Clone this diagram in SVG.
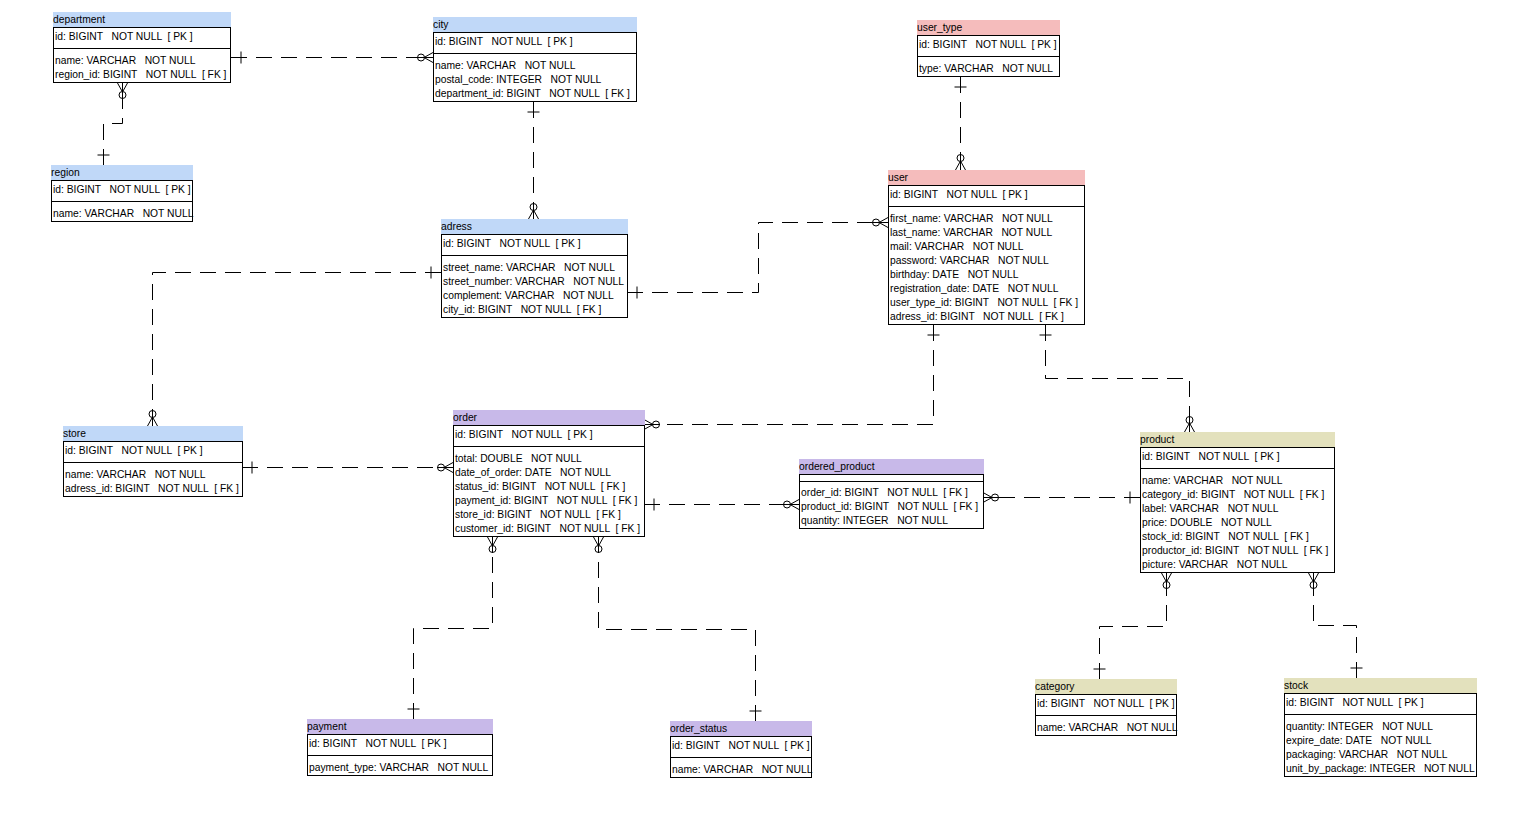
<svg xmlns="http://www.w3.org/2000/svg" width="1530" height="828" viewBox="0 0 1530 828">
<style>
text{font-family:"Liberation Sans",Arial,sans-serif;font-size:10.3px;fill:#000;white-space:pre}
.box{fill:#fff;stroke:#000;stroke-width:1}
.sep{stroke:#000;stroke-width:1}
.hb{fill:#c0d8f8}
.hp{fill:#f5bcbc}
.hv{fill:#c8b9e9}
.hk{fill:#e3e1bd}
.conn{fill:none;stroke:#000;stroke-width:1;stroke-dasharray:16 9;marker-start:url(#one);marker-end:url(#many)}
.mk{fill:none;stroke:#000;stroke-width:1}
</style>
<defs>
<marker id="one" markerUnits="userSpaceOnUse" viewBox="-20 -10 22 20" refX="0" refY="0" markerWidth="22" markerHeight="20" orient="auto-start-reverse" overflow="visible">
<path class="mk" d="M-16 0H0M-10 -6V6"/>
</marker>
<marker id="many" markerUnits="userSpaceOnUse" viewBox="-20 -10 22 20" refX="0" refY="0" markerWidth="22" markerHeight="20" orient="auto" overflow="visible">
<path class="mk" d="M-16 0H0M-9 0L0 -5M-9 0L0 5"/>
<circle class="mk" cx="-12" cy="0" r="3.5"/>
</marker>
</defs>
<rect width="1530" height="828" fill="#fff"/>

<g id="connectors">
<path class="conn" d="M231 57.5H433"/>
<path class="conn" d="M103.5 165V123.5H122.5V83"/>
<path class="conn" d="M533.5 102V219"/>
<path class="conn" d="M627 292.5H758.5V222.5H888"/>
<path class="conn" d="M441 272.5H152.5V426"/>
<path class="conn" d="M960.5 77V170"/>
<path class="conn" d="M933.5 325V424.5H644"/>
<path class="conn" d="M1045.5 325V378.5H1189.5V432"/>
<path class="conn" d="M242 467.5H453"/>
<path class="conn" d="M644 504.5H799"/>
<path class="conn" d="M1140 497.5H983"/>
<path class="conn" d="M413.5 719V628.5H492.5V537"/>
<path class="conn" d="M755.5 721V629.5H598.5V537"/>
<path class="conn" d="M1099.5 679V626.5H1166.5V573"/>
<path class="conn" d="M1356.5 678V625.5H1313.5V573"/>
</g>

<g id="department">
<rect class="hb" x="53" y="12" width="178" height="15"/>
<text x="53" y="23">department</text>
<rect class="box" x="53.5" y="27.5" width="177" height="55"/>
<line class="sep" x1="53" y1="48.5" x2="231" y2="48.5"/>
<text x="55" y="40">id: BIGINT   NOT NULL  [ PK ]</text>
<text x="55" y="64">name: VARCHAR   NOT NULL</text>
<text x="55" y="78">region_id: BIGINT   NOT NULL  [ FK ]</text>
</g>

<g id="city">
<rect class="hb" x="433" y="17" width="204" height="15"/>
<text x="433" y="28">city</text>
<rect class="box" x="433.5" y="32.5" width="203" height="69"/>
<line class="sep" x1="433" y1="53.5" x2="637" y2="53.5"/>
<text x="435" y="45">id: BIGINT   NOT NULL  [ PK ]</text>
<text x="435" y="69">name: VARCHAR   NOT NULL</text>
<text x="435" y="83">postal_code: INTEGER   NOT NULL</text>
<text x="435" y="97">department_id: BIGINT   NOT NULL  [ FK ]</text>
</g>

<g id="region">
<rect class="hb" x="51" y="165" width="142" height="15"/>
<text x="51" y="176">region</text>
<rect class="box" x="51.5" y="180.5" width="141" height="41"/>
<line class="sep" x1="51" y1="201.5" x2="193" y2="201.5"/>
<text x="53" y="193">id: BIGINT   NOT NULL  [ PK ]</text>
<text x="53" y="217">name: VARCHAR   NOT NULL</text>
</g>

<g id="user_type">
<rect class="hp" x="917" y="20" width="143" height="15"/>
<text x="917" y="31">user_type</text>
<rect class="box" x="917.5" y="35.5" width="142" height="41"/>
<line class="sep" x1="917" y1="56.5" x2="1060" y2="56.5"/>
<text x="919" y="48">id: BIGINT   NOT NULL  [ PK ]</text>
<text x="919" y="72">type: VARCHAR   NOT NULL</text>
</g>

<g id="user">
<rect class="hp" x="888" y="170" width="197" height="15"/>
<text x="888" y="181">user</text>
<rect class="box" x="888.5" y="185.5" width="196" height="139"/>
<line class="sep" x1="888" y1="206.5" x2="1085" y2="206.5"/>
<text x="890" y="198">id: BIGINT   NOT NULL  [ PK ]</text>
<text x="890" y="222">first_name: VARCHAR   NOT NULL</text>
<text x="890" y="236">last_name: VARCHAR   NOT NULL</text>
<text x="890" y="250">mail: VARCHAR   NOT NULL</text>
<text x="890" y="264">password: VARCHAR   NOT NULL</text>
<text x="890" y="278">birthday: DATE   NOT NULL</text>
<text x="890" y="292">registration_date: DATE   NOT NULL</text>
<text x="890" y="306">user_type_id: BIGINT   NOT NULL  [ FK ]</text>
<text x="890" y="320">adress_id: BIGINT   NOT NULL  [ FK ]</text>
</g>

<g id="adress">
<rect class="hb" x="441" y="219" width="187" height="15"/>
<text x="441" y="230">adress</text>
<rect class="box" x="441.5" y="234.5" width="186" height="83"/>
<line class="sep" x1="441" y1="255.5" x2="628" y2="255.5"/>
<text x="443" y="247">id: BIGINT   NOT NULL  [ PK ]</text>
<text x="443" y="271">street_name: VARCHAR   NOT NULL</text>
<text x="443" y="285">street_number: VARCHAR   NOT NULL</text>
<text x="443" y="299">complement: VARCHAR   NOT NULL</text>
<text x="443" y="313">city_id: BIGINT   NOT NULL  [ FK ]</text>
</g>

<g id="store">
<rect class="hb" x="63" y="426" width="180" height="15"/>
<text x="63" y="437">store</text>
<rect class="box" x="63.5" y="441.5" width="179" height="55"/>
<line class="sep" x1="63" y1="462.5" x2="243" y2="462.5"/>
<text x="65" y="454">id: BIGINT   NOT NULL  [ PK ]</text>
<text x="65" y="478">name: VARCHAR   NOT NULL</text>
<text x="65" y="492">adress_id: BIGINT   NOT NULL  [ FK ]</text>
</g>

<g id="order">
<rect class="hv" x="453" y="410" width="192" height="15"/>
<text x="453" y="421">order</text>
<rect class="box" x="453.5" y="425.5" width="191" height="111"/>
<line class="sep" x1="453" y1="446.5" x2="645" y2="446.5"/>
<text x="455" y="438">id: BIGINT   NOT NULL  [ PK ]</text>
<text x="455" y="462">total: DOUBLE   NOT NULL</text>
<text x="455" y="476">date_of_order: DATE   NOT NULL</text>
<text x="455" y="490">status_id: BIGINT   NOT NULL  [ FK ]</text>
<text x="455" y="504">payment_id: BIGINT   NOT NULL  [ FK ]</text>
<text x="455" y="518">store_id: BIGINT   NOT NULL  [ FK ]</text>
<text x="455" y="532">customer_id: BIGINT   NOT NULL  [ FK ]</text>
</g>

<g id="ordered_product">
<rect class="hv" x="799" y="459" width="185" height="15"/>
<text x="799" y="470">ordered_product</text>
<rect class="box" x="799.5" y="474.5" width="184" height="54"/>
<line class="sep" x1="799" y1="481.5" x2="984" y2="481.5"/>
<text x="801" y="496">order_id: BIGINT   NOT NULL  [ FK ]</text>
<text x="801" y="510">product_id: BIGINT   NOT NULL  [ FK ]</text>
<text x="801" y="524">quantity: INTEGER   NOT NULL</text>
</g>

<g id="product">
<rect class="hk" x="1140" y="432" width="195" height="15"/>
<text x="1140" y="443">product</text>
<rect class="box" x="1140.5" y="447.5" width="194" height="125"/>
<line class="sep" x1="1140" y1="468.5" x2="1335" y2="468.5"/>
<text x="1142" y="460">id: BIGINT   NOT NULL  [ PK ]</text>
<text x="1142" y="484">name: VARCHAR   NOT NULL</text>
<text x="1142" y="498">category_id: BIGINT   NOT NULL  [ FK ]</text>
<text x="1142" y="512">label: VARCHAR   NOT NULL</text>
<text x="1142" y="526">price: DOUBLE   NOT NULL</text>
<text x="1142" y="540">stock_id: BIGINT   NOT NULL  [ FK ]</text>
<text x="1142" y="554">productor_id: BIGINT   NOT NULL  [ FK ]</text>
<text x="1142" y="568">picture: VARCHAR   NOT NULL</text>
</g>

<g id="category">
<rect class="hk" x="1035" y="679" width="142" height="15"/>
<text x="1035" y="690">category</text>
<rect class="box" x="1035.5" y="694.5" width="141" height="41"/>
<line class="sep" x1="1035" y1="715.5" x2="1177" y2="715.5"/>
<text x="1037" y="707">id: BIGINT   NOT NULL  [ PK ]</text>
<text x="1037" y="731">name: VARCHAR   NOT NULL</text>
</g>

<g id="stock">
<rect class="hk" x="1284" y="678" width="193" height="15"/>
<text x="1284" y="689">stock</text>
<rect class="box" x="1284.5" y="693.5" width="192" height="83"/>
<line class="sep" x1="1284" y1="714.5" x2="1477" y2="714.5"/>
<text x="1286" y="706">id: BIGINT   NOT NULL  [ PK ]</text>
<text x="1286" y="730">quantity: INTEGER   NOT NULL</text>
<text x="1286" y="744">expire_date: DATE   NOT NULL</text>
<text x="1286" y="758">packaging: VARCHAR   NOT NULL</text>
<text x="1286" y="772">unit_by_package: INTEGER   NOT NULL</text>
</g>

<g id="payment">
<rect class="hv" x="307" y="719" width="186" height="15"/>
<text x="307" y="730">payment</text>
<rect class="box" x="307.5" y="734.5" width="185" height="41"/>
<line class="sep" x1="307" y1="755.5" x2="493" y2="755.5"/>
<text x="309" y="747">id: BIGINT   NOT NULL  [ PK ]</text>
<text x="309" y="771">payment_type: VARCHAR   NOT NULL</text>
</g>

<g id="order_status">
<rect class="hv" x="670" y="721" width="142" height="15"/>
<text x="670" y="732">order_status</text>
<rect class="box" x="670.5" y="736.5" width="141" height="41"/>
<line class="sep" x1="670" y1="757.5" x2="812" y2="757.5"/>
<text x="672" y="749">id: BIGINT   NOT NULL  [ PK ]</text>
<text x="672" y="773">name: VARCHAR   NOT NULL</text>
</g>
</svg>
